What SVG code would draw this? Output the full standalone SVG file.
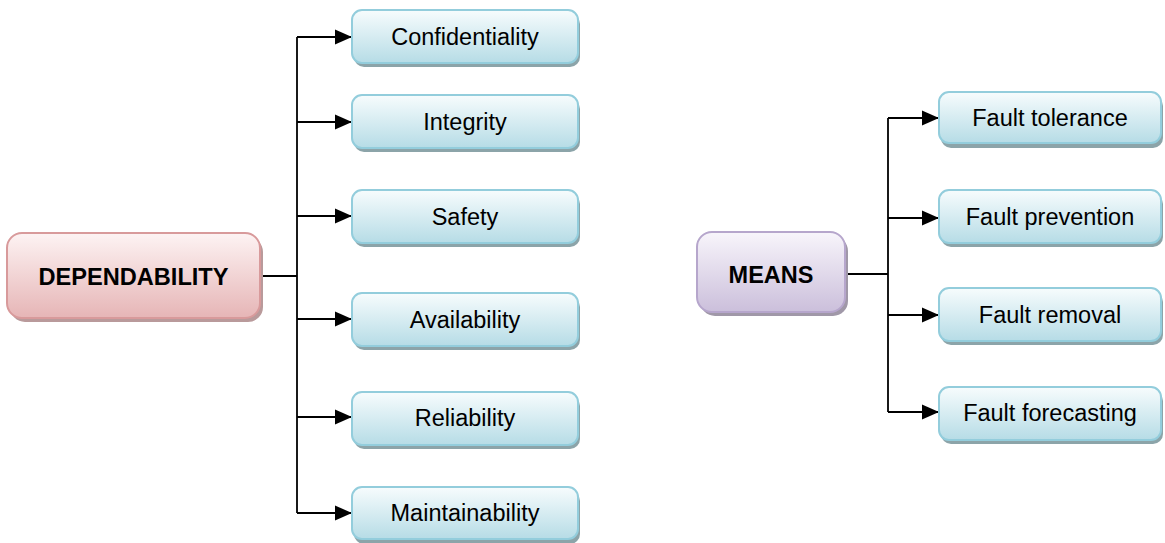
<svg xmlns="http://www.w3.org/2000/svg" width="1165" height="543" viewBox="0 0 1165 543">
<defs>
<linearGradient id="gBlue" x1="0" y1="0" x2="0" y2="1">
<stop offset="0" stop-color="#f7fcfd"/>
<stop offset="1" stop-color="#b6dce6"/>
</linearGradient>
<linearGradient id="gPink" x1="0" y1="0" x2="0" y2="1">
<stop offset="0" stop-color="#fdf3f3"/>
<stop offset="1" stop-color="#e6b5b6"/>
</linearGradient>
<linearGradient id="gPurple" x1="0" y1="0" x2="0" y2="1">
<stop offset="0" stop-color="#f8f5fb"/>
<stop offset="1" stop-color="#cbbfdb"/>
</linearGradient>
<marker id="arr" markerWidth="18" markerHeight="16" refX="17" refY="8" orient="auto" markerUnits="userSpaceOnUse">
<path d="M0,0.5 L17,8 L0,15.5 Z" fill="#000"/>
</marker>
</defs>
<style>
.leaf{fill:url(#gBlue);stroke:#93cddc;stroke-width:2}
.leafsh{fill:#8ca4a9}
.t{font-family:"Liberation Sans",Arial,sans-serif;font-size:23.5px;fill:#000;text-anchor:middle}
.tb{font-family:"Liberation Sans",Arial,sans-serif;font-size:23.5px;font-weight:bold;fill:#000;text-anchor:middle}
.c{fill:none;stroke:#000;stroke-width:1.8}
</style>
<g id="connectors">
<path class="c" d="M260,276 H297"/>
<path class="c" d="M297,37 V513"/>
<path class="c" d="M297,37 H352" marker-end="url(#arr)"/>
<path class="c" d="M297,122 H352" marker-end="url(#arr)"/>
<path class="c" d="M297,216 H352" marker-end="url(#arr)"/>
<path class="c" d="M297,319 H352" marker-end="url(#arr)"/>
<path class="c" d="M297,417 H352" marker-end="url(#arr)"/>
<path class="c" d="M297,513 H352" marker-end="url(#arr)"/>
<path class="c" d="M845,274 H888"/>
<path class="c" d="M888,118 V412"/>
<path class="c" d="M888,118 H939" marker-end="url(#arr)"/>
<path class="c" d="M888,218 H939" marker-end="url(#arr)"/>
<path class="c" d="M888,315 H939" marker-end="url(#arr)"/>
<path class="c" d="M888,412 H939" marker-end="url(#arr)"/>
</g>
<g id="dependability">
<rect x="10" y="237" width="253" height="85" rx="15" fill="#b99a9b"/>
<rect x="7" y="233" width="253" height="85" rx="15" fill="url(#gPink)" stroke="#d89a9b" stroke-width="2"/>
<text class="tb" x="133.5" y="285" textLength="190" lengthAdjust="spacingAndGlyphs">DEPENDABILITY</text>
</g>
<g id="means">
<rect x="700" y="236" width="148" height="80" rx="15" fill="#a098a8"/>
<rect x="697" y="232" width="148" height="80" rx="15" fill="url(#gPurple)" stroke="#b6a6cc" stroke-width="2"/>
<text class="tb" x="771" y="283">MEANS</text>
</g>
<g id="confidentiality">
<rect class="leafsh" x="354" y="14" width="226" height="53" rx="10"/>
<rect class="leaf" x="352" y="10" width="226" height="53" rx="10"/>
<text class="t" x="465" y="45">Confidentiality</text>
</g>
<g id="integrity">
<rect class="leafsh" x="354" y="99" width="226" height="53" rx="10"/>
<rect class="leaf" x="352" y="95" width="226" height="53" rx="10"/>
<text class="t" x="465" y="130">Integrity</text>
</g>
<g id="safety">
<rect class="leafsh" x="354" y="194" width="226" height="53" rx="10"/>
<rect class="leaf" x="352" y="190" width="226" height="53" rx="10"/>
<text class="t" x="465" y="225">Safety</text>
</g>
<g id="availability">
<rect class="leafsh" x="354" y="297" width="226" height="53" rx="10"/>
<rect class="leaf" x="352" y="293" width="226" height="53" rx="10"/>
<text class="t" x="465" y="328">Availability</text>
</g>
<g id="reliability">
<rect class="leafsh" x="354" y="396" width="226" height="53" rx="10"/>
<rect class="leaf" x="352" y="392" width="226" height="53" rx="10"/>
<text class="t" x="465" y="426">Reliability</text>
</g>
<g id="maintainability">
<rect class="leafsh" x="354" y="491" width="226" height="53" rx="10"/>
<rect class="leaf" x="352" y="487" width="226" height="52" rx="10"/>
<text class="t" x="465" y="521">Maintainability</text>
</g>
<g id="fault-tolerance">
<rect class="leafsh" x="941" y="96" width="222" height="52" rx="10"/>
<rect class="leaf" x="939" y="92" width="222" height="51" rx="10"/>
<text class="t" x="1050" y="126">Fault tolerance</text>
</g>
<g id="fault-prevention">
<rect class="leafsh" x="941" y="194" width="222" height="53" rx="10"/>
<rect class="leaf" x="939" y="190" width="222" height="53" rx="10"/>
<text class="t" x="1050" y="225">Fault prevention</text>
</g>
<g id="fault-removal">
<rect class="leafsh" x="941" y="292" width="222" height="53" rx="10"/>
<rect class="leaf" x="939" y="288" width="222" height="53" rx="10"/>
<text class="t" x="1050" y="323">Fault removal</text>
</g>
<g id="fault-forecasting">
<rect class="leafsh" x="941" y="391" width="222" height="53" rx="10"/>
<rect class="leaf" x="939" y="387" width="222" height="53" rx="10"/>
<text class="t" x="1050" y="421">Fault forecasting</text>
</g>
</svg>
